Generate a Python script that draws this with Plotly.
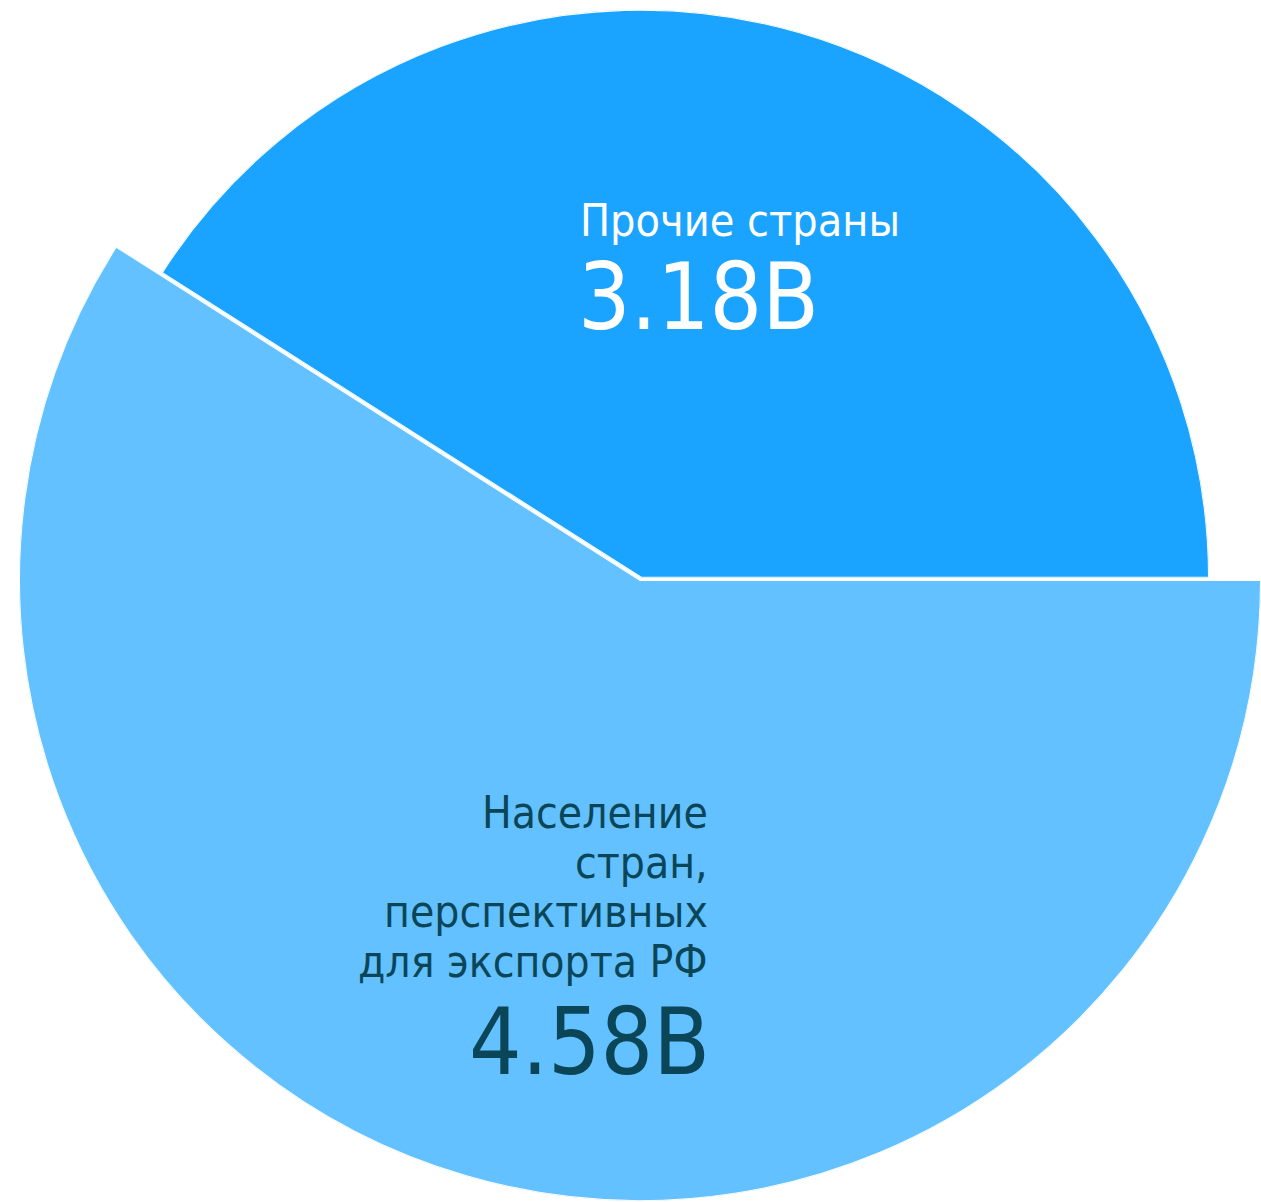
import math
import plotly.graph_objects as go

# ---- data ----
labels = ["Прочие страны", "Население<br>стран,<br>перспективных<br>для экспорта РФ"]
values = [3.18, 4.58]
value_suffix = "B"
colors = ["#1aa3ff", "#63c1ff"]
text_colors = ["#ffffff", "#0b4658"]

# ---- layout constants ----
W, H = 1261, 1202
CENTERS = [(641, 577.7), (640, 580)]   # slice centres (px)
RADII = [568, 621]                     # slice radii (px)
EDGE_W = 2
FONT = "DejaVu Sans Condensed, DejaVu Sans, sans-serif"

total = sum(values)
spans = [v / total * 360 for v in values]
starts = [0, spans[0]]


def sector_bbox(a0, a1):
    angs = [a0, a1] + [k * 90 for k in range(0, 9) if a0 < k * 90 < a1]
    xs = [0] + [math.cos(math.radians(a)) for a in angs]
    ys = [0] + [math.sin(math.radians(a)) for a in angs]
    return min(xs), min(ys), max(xs), max(ys)


def clamp(v):
    return max(0.0, min(1.0, v))


fig = go.Figure()
layout_polars = {}
for i in range(len(values)):
    a0, a1 = starts[i], starts[i] + spans[i]
    bx0, by0, bx1, by1 = sector_bbox(a0, a1)
    R = RADII[i]
    cx, cy = CENTERS[i]
    dom_x = [clamp((cx + R * bx0) / W), clamp((cx + R * bx1) / W)]
    top_px = cy - R * by1
    bot_px = cy - R * by0
    dom_y = [clamp((H - bot_px) / H), clamp((H - top_px) / H)]
    name = "polar" if i == 0 else f"polar{i + 1}"
    fig.add_trace(go.Barpolar(
        r=[1], theta=[a0 + spans[i] / 2], width=[spans[i]],
        marker=dict(color=colors[i], line=dict(color="white", width=EDGE_W)),
        subplot=name, hoverinfo="skip", showlegend=False,
    ))
    layout_polars[name] = dict(
        domain=dict(x=dom_x, y=dom_y),
        sector=[a0, a1],
        bgcolor="rgba(0,0,0,0)",
        hole=0,
        radialaxis=dict(range=[0, 1], visible=False, showgrid=False),
        angularaxis=dict(visible=False, showgrid=False, rotation=0,
                         direction="counterclockwise"),
    )

fig.update_layout(**layout_polars)


def px2paper(x, y):
    return x / W, 1 - y / H


def baseline_center(baseline, size):
    return baseline - 0.346 * size


annotations = []
# slice 0 label (left-aligned block)
LBL0 = 44.5
VAL0 = 92
x, y = px2paper(578, baseline_center(236, LBL0))
annotations.append(dict(x=x, y=y, text=labels[0], xanchor="left", yanchor="middle",
                        font=dict(family=FONT, size=LBL0, color=text_colors[0])))
x, y = px2paper(576, baseline_center(329, VAL0))
annotations.append(dict(x=x, y=y, text=f"{values[0]:.2f}{value_suffix}", xanchor="left",
                        yanchor="middle", font=dict(family=FONT, size=VAL0, color=text_colors[0])))

# slice 1 label (right-aligned block)
LBL1 = 44
VAL1 = 92
lines = labels[1].split("<br>")
for k, line in enumerate(lines):
    x, y = px2paper(710, baseline_center(828 + k * 49.5, LBL1))
    annotations.append(dict(x=x, y=y, text=line, xanchor="right", yanchor="middle",
                            font=dict(family=FONT, size=LBL1, color=text_colors[1])))
x, y = px2paper(712, baseline_center(1074, VAL1))
annotations.append(dict(x=x, y=y, text=f"{values[1]:.2f}{value_suffix}", xanchor="right",
                        yanchor="middle", font=dict(family=FONT, size=VAL1, color=text_colors[1])))

for a in annotations:
    a.update(xref="paper", yref="paper", showarrow=False)

fig.update_layout(
    width=W, height=H,
    margin=dict(l=0, r=0, t=0, b=0),
    paper_bgcolor="white", plot_bgcolor="white",
    showlegend=False,
    annotations=annotations,
)

fig.write_html(
    "out.html",
    config={"displayModeBar": False},
    post_script="document.body.style.margin='0';document.body.style.overflow='hidden';",
)
